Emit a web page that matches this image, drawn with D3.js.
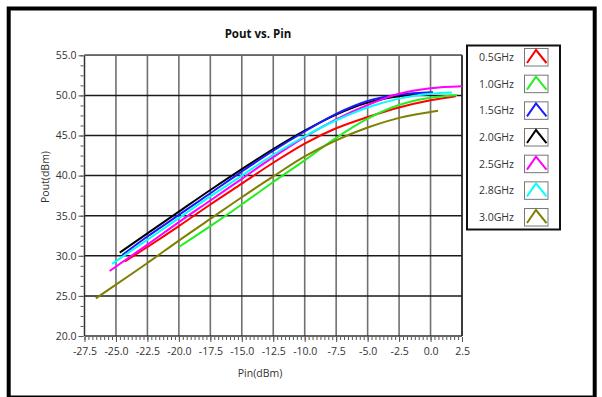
<!DOCTYPE html>
<html><head><meta charset="utf-8">
<script src="https://cdn.jsdelivr.net/npm/d3@7"></script>
<style>
html,body{margin:0;padding:0;background:#fff;}
svg{display:block;}
text{font-family:"Open Sans","DejaVu Sans",sans-serif;}
</style></head>
<body><svg id="c" width="602" height="397"></svg>
<script>
const title = "Pout vs. Pin";
const xLabel = "Pin(dBm)";
const yLabel = "Pout(dBm)";
const xTicks = [-27.5,-25,-22.5,-20,-17.5,-15,-12.5,-10,-7.5,-5,-2.5,0,2.5];
const yTicks = [20,25,30,35,40,45,50,55];
const seriesNames = ["0.5GHz","1.0GHz","1.5GHz","2.0GHz","2.5GHz","2.8GHz","3.0GHz"];
const seriesColors = ["#ff0000","#22ee22","#1a1aff","#000000","#ff00ff","#00ffff","#808000"];
const s05 = [[-24.3,29.3],[-22.5,31.1],[-20,33.7],[-17.5,36.4],[-15,39.0],[-12.5,41.6],[-10,44.0],[-7.5,45.9],[-5,47.3],[-2.5,48.5],[0,49.4],[2.0,49.9]];
const s10 = [[-20,31.1],[-17.5,33.7],[-15,36.4],[-12.5,39.2],[-10,41.9],[-7.5,44.7],[-5,47.1],[-2.5,48.8],[0,49.7],[2.1,50.05]];
const s15 = [[-24.5,30.1],[-22.5,32.4],[-20,35.1],[-17.5,37.8],[-15,40.5],[-12.5,43.1],[-10,45.5],[-7.5,47.7],[-5,49.3],[-2.5,50.1],[0.2,50.4]];
const s20 = [[-24.7,30.4],[-22.5,32.8],[-20,35.5],[-17.5,38.2],[-15,40.8],[-12.5,43.3],[-10,45.6],[-7.5,47.6],[-5,49.1],[-2.5,49.9],[-1.0,50.1]];
const s25 = [[-25.5,28.1],[-22.5,31.4],[-20,34.2],[-17.5,36.9],[-15,39.6],[-12.5,42.3],[-10,44.8],[-7.5,47.0],[-5,48.8],[-2.5,50.2],[0,50.9],[2.5,51.15]];
const s28 = [[-25.3,29.0],[-22.5,32.0],[-20,34.7],[-17.5,37.4],[-15,40.0],[-12.5,42.6],[-10,44.9],[-7.5,46.9],[-5,48.5],[-2.5,49.6],[0,50.2],[1.7,50.35]];
const s30 = [[-26.6,24.7],[-25,26.4],[-22.5,29.1],[-20,31.9],[-17.5,34.6],[-15,37.3],[-12.5,39.9],[-10,42.4],[-7.5,44.4],[-5,46.0],[-2.5,47.2],[0.6,48.1]];
const seriesData = [s05,s10,s15,s20,s25,s28,s30];
const drawOrder = [0,1,3,2,4,5,6];

const svg = d3.select("#c");
// outer frame
svg.append("rect").attr("x",8.7).attr("y",8.5).attr("width",586).attr("height",389)
  .attr("fill","#fff").attr("stroke","#000").attr("stroke-width",4);

const L=84.5,R=462,T=55.3,B=336;
const x = d3.scaleLinear().domain([-27.5,2.5]).range([L,R]);
const y = d3.scaleLinear().domain([20,55]).range([B,T]);
const fmt = d => d.toFixed(1);

const g = svg.append("g");
// grid
g.selectAll(".vg").data(xTicks.slice(1)).enter().append("line")
  .attr("x1",d=>x(d)).attr("x2",d=>x(d)).attr("y1",T).attr("y2",B)
  .attr("stroke","#707070").attr("stroke-width",1.6);
g.selectAll(".hg").data(yTicks.slice(1)).enter().append("line")
  .attr("x1",L).attr("x2",R).attr("y1",d=>y(d)).attr("y2",d=>y(d))
  .attr("stroke","#1a1a1a").attr("stroke-width",1.5);

// minor ticks
const xMinor = d3.range(-27.5, 2.5001, 2.5/8);
const yMinor = d3.range(20, 55.001, 1.25);
const axMinX = d3.axisBottom(x).tickValues(xMinor).tickSize(3).tickFormat("");
const axMinY = d3.axisLeft(y).tickValues(yMinor).tickSize(3).tickFormat("");
const gmx = svg.append("g").attr("transform",`translate(0,${B+1})`).call(axMinX);
const gmy = svg.append("g").attr("transform",`translate(${L-1},0)`).call(axMinY);
[gmx,gmy].forEach(a=>{a.select(".domain").remove();a.selectAll("line").attr("stroke","#555");});

const axX = d3.axisBottom(x).tickValues(xTicks).tickSize(5).tickPadding(6).tickFormat(fmt);
const axY = d3.axisLeft(y).tickValues(yTicks).tickSize(5).tickPadding(2).tickFormat(fmt);
const gx = svg.append("g").attr("transform",`translate(0,${B+1})`).call(axX);
const gy = svg.append("g").attr("transform",`translate(${L-1},0)`).call(axY);
[gx,gy].forEach(a=>{a.select(".domain").remove();a.selectAll("line").attr("stroke","#555");
  a.selectAll("text").attr("fill","#333").style("font-size","10.5px").style("font-family","'Open Sans',sans-serif");});

// plot border
svg.append("line").attr("x1",L).attr("x2",L).attr("y1",T).attr("y2",B).attr("stroke","#333").attr("stroke-width",1.5);
svg.append("line").attr("x1",L).attr("x2",R).attr("y1",B).attr("y2",B).attr("stroke","#333").attr("stroke-width",1.5);
svg.append("line").attr("x1",L).attr("x2",R).attr("y1",T).attr("y2",T).attr("stroke","#666").attr("stroke-width",1.5);
svg.append("line").attr("x1",R).attr("x2",R).attr("y1",T).attr("y2",B).attr("stroke","#222").attr("stroke-width",1.5);

// series
const line = d3.line().x(d=>x(d[0])).y(d=>y(d[1])).curve(d3.curveMonotoneX);
drawOrder.forEach(i=>{
  svg.append("path").attr("d",line(seriesData[i])).attr("fill","none")
    .attr("stroke",seriesColors[i]).attr("stroke-width",2);
});

// titles
svg.append("text").attr("x",258).attr("y",38).attr("text-anchor","middle")
  .style("font-size","11.5px").style("font-weight","bold").attr("fill","#111").text(title);
svg.append("text").attr("x",260).attr("y",377).attr("text-anchor","middle")
  .style("font-size","10.5px").attr("fill","#333").text(xLabel);
svg.append("text").attr("transform","translate(49,177) rotate(-90)").attr("text-anchor","middle")
  .style("font-size","10.5px").attr("fill","#333").text(yLabel);

// legend
const lg = svg.append("g");
lg.append("rect").attr("x",467).attr("y",45.5).attr("width",93).attr("height",184)
  .attr("fill","#fff").attr("stroke","#111").attr("stroke-width",2);
seriesNames.forEach((n,i)=>{
  const cy = 57 + i*26.67;
  lg.append("text").attr("x",514).attr("y",cy+4).attr("text-anchor","end")
    .style("font-size","10.5px").attr("fill","#333").text(n);
  lg.append("rect").attr("x",524.5).attr("y",cy-8.5).attr("width",23.5).attr("height",17.5)
    .attr("fill","#fff").attr("stroke","#777").attr("stroke-width",1);
  lg.append("path").attr("d",`M${527},${cy+6} L${536},${cy-7} L${546.5},${cy+6}`)
    .attr("fill","none").attr("stroke",seriesColors[i]).attr("stroke-width",2);
});
</script></body></html>
